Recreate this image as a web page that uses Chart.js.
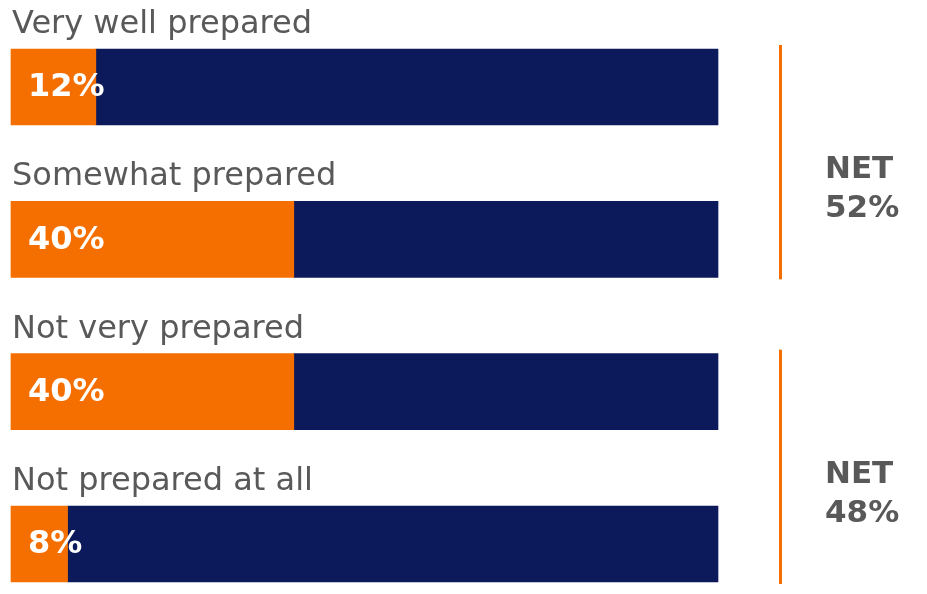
<!doctype html>
<html>
<head>
    <script src="https://cdn.jsdelivr.net/npm/chart.js@4.4.0/dist/chart.umd.min.js"></script>
    <style>
        html, body { margin: 0; padding: 0; background: #fff; }
        #wrap { width: 927px; height: 594px; }
    </style>
</head>
<body>
<div id="wrap"><canvas id="chart"></canvas></div>
<script>
    const categories = ['Very well prepared', 'Somewhat prepared', 'Not very prepared', 'Not prepared at all'];
    const values = [12, 40, 40, 8];
    const remainder = values.map(v => 100 - v);
    const netLabels = ['NET', 'NET'];
    const netValues = [52, 48];
    const netGroups = [[0, 1], [2, 3]];

    const orange = '#f46f00';
    const navy = '#0c1a5b';
    const grey = '#595959';
    const font = '"DejaVu Sans", Verdana, sans-serif';

    const overlay = {
        id: 'overlay',
        afterDatasetsDraw(chart) {
            const ctx = chart.ctx;
            const bars = chart.getDatasetMeta(0).data;
            ctx.save();
            // category labels above the bars
            ctx.fillStyle = grey;
            ctx.font = '32px ' + font;
            ctx.textAlign = 'left';
            ctx.textBaseline = 'alphabetic';
            bars.forEach((b, i) => {
                ctx.fillText(categories[i], 12, b.y - b.height / 2 - 16);
            });
            // value labels inside orange part
            ctx.fillStyle = '#ffffff';
            ctx.font = 'bold 32px ' + font;
            ctx.textBaseline = 'middle';
            bars.forEach((b, i) => {
                ctx.fillText(values[i] + '%', b.base + 17, b.y + 1);
            });
            // NET brackets
            netGroups.forEach((g, k) => {
                const top = bars[g[0]];
                const bot = bars[g[1]];
                const y1 = top.y - 42;
                const y2 = bot.y + 40;
                ctx.strokeStyle = orange;
                ctx.lineWidth = 3;
                ctx.beginPath();
                ctx.moveTo(780.5, y1);
                ctx.lineTo(780.5, y2);
                ctx.stroke();
                const mid = (top.y + bot.y) / 2;
                ctx.fillStyle = grey;
                ctx.font = 'bold 31px ' + font;
                ctx.textBaseline = 'alphabetic';
                ctx.fillText(netLabels[k], 825, mid + 15);
                ctx.fillText(netValues[k] + '%', 825, mid + 54);
            });
            ctx.restore();
        }
    };

    const ctx = document.getElementById('chart').getContext('2d');
    const chart = new Chart(ctx, {
        type: 'bar',
        data: {
            labels: categories,
            datasets: [
                { data: values, backgroundColor: orange, barThickness: 76, clip: false },
                { data: remainder, backgroundColor: navy, barThickness: 76, clip: false }
            ]
        },
        options: {
            indexAxis: 'y',
            responsive: true,
            maintainAspectRatio: false,
            animation: false,
            layout: { padding: { left: 11, right: 209, top: 87, bottom: 50 } },
            scales: {
                x: { stacked: true, min: 0, max: 100, display: false },
                y: { stacked: true, offset: false, display: false }
            },
            plugins: {
                legend: { display: false },
                tooltip: { enabled: false }
            }
        },
        plugins: [overlay]
    });
</script>
</body>
</html>
